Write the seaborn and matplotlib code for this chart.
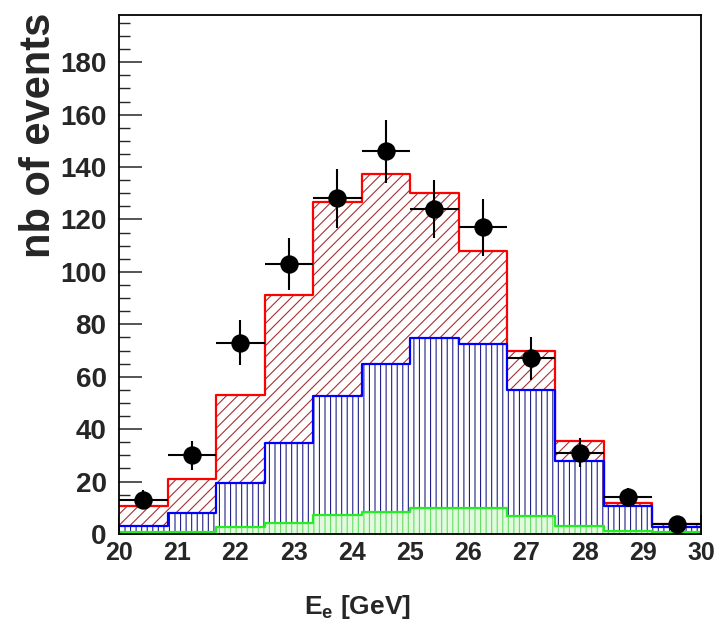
import numpy as np
import pandas as pd
import matplotlib
matplotlib.use("Agg")
import matplotlib.pyplot as plt
from matplotlib import font_manager
from matplotlib.ticker import MultipleLocator
import seaborn as sns

# binning of the energy spectrum (12 bins between 20 and 30 GeV)
bin_edges = list(np.linspace(20, 30, 13))
bin_centers = [0.5 * (a + b) for a, b in zip(bin_edges[:-1], bin_edges[1:])]

# simulated contributions
total_mc = [10.5, 21.0, 53.0, 91.0, 126.5, 137.5, 130.2, 107.8, 70.0, 35.5, 11.7, 3.8]
main_bkg = [3.2, 8.1, 19.3, 34.6, 52.6, 64.8, 74.6, 72.5, 54.9, 28.0, 10.7, 2.8]
small_bkg = [0.9, 0.9, 2.8, 4.3, 7.2, 8.5, 10.0, 9.9, 7.0, 3.2, 1.3, 0.7]

# measured events and their statistical errors
data_counts = [13, 30, 73, 103, 128, 146, 124, 117, 67, 31, 14, 4]
data_errors = [3.6, 5.5, 8.5, 10.1, 11.3, 12.1, 11.1, 10.8, 8.2, 5.6, 3.7, 2.0]

x_ticks = [20, 21, 22, 23, 24, 25, 26, 27, 28, 29, 30]
y_ticks = [0, 20, 40, 60, 80, 100, 120, 140, 160, 180]

sns.set_style("ticks")
plt.rcParams["font.family"] = ["Liberation Sans", "DejaVu Sans"]
plt.rcParams["font.weight"] = "bold"
plt.rcParams["mathtext.fontset"] = "custom"
plt.rcParams["mathtext.rm"] = "Liberation Sans:bold"
plt.rcParams["mathtext.bf"] = "Liberation Sans:bold"
plt.rcParams["mathtext.it"] = "Liberation Sans:bold"
plt.rcParams["mathtext.default"] = "bf"
plt.rcParams["hatch.linewidth"] = 0.8

installed = {f.name for f in font_manager.fontManager.ttflist}
if "Liberation Sans Narrow" in installed:
    ylab_font, ylab_size = "Liberation Sans Narrow", 36
else:
    ylab_font, ylab_size = "Liberation Sans", 30

df = pd.DataFrame({
    "E": bin_centers,
    "total": total_mc,
    "main": main_bkg,
    "small": small_bkg,
    "data": data_counts,
    "err": data_errors,
})

fig = plt.figure(figsize=(7.2, 6.2), dpi=100)
ax = fig.add_axes([0.1653, 0.1387, 0.8083, 0.8371])

layers = [
    ("total", "white", "#a83030", "///", "#ff0000"),
    ("main", "white", "#202088", "|||", "#0000ff"),
    ("small", "#e2fade", "#66dd66", "|||", "#22ee22"),
]
for col, face, hatch_col, hatch, line_col in layers:
    sns.histplot(data=df, x="E", weights=col, bins=bin_edges, element="step",
                 fill=True, facecolor=face, edgecolor=hatch_col, hatch=hatch,
                 linewidth=0, alpha=1, ax=ax)
    sns.histplot(data=df, x="E", weights=col, bins=bin_edges, element="step",
                 fill=False, color=line_col, linewidth=1.6, ax=ax)

half_width = (bin_edges[1] - bin_edges[0]) / 2
ax.errorbar(df["E"], df["data"], xerr=half_width, yerr=df["err"], fmt="none",
            ecolor="black", elinewidth=1.5, capsize=0, zorder=5)
sns.scatterplot(data=df, x="E", y="data", color="black", s=175,
                edgecolor="black", linewidth=0, zorder=6, ax=ax)

ax.set_xlim(20, 30)
ax.set_ylim(0, 198)
ax.set_xticks(x_ticks)
ax.set_yticks(y_ticks)
ax.xaxis.set_minor_locator(MultipleLocator(0.2))
ax.yaxis.set_minor_locator(MultipleLocator(5))
ax.tick_params(axis="x", which="major", direction="in", length=14, width=1.1,
               labelsize=18, pad=5, top=False)
ax.tick_params(axis="x", which="minor", direction="in", length=6.5, width=1.0,
               top=False)
ax.tick_params(axis="y", which="major", direction="in", length=16.5, width=1.1,
               labelsize=20, pad=9, right=False)
ax.tick_params(axis="y", which="minor", direction="in", length=8, width=1.0,
               right=False)
for spine in ax.spines.values():
    spine.set_visible(True)
    spine.set_linewidth(1.3)
    spine.set_color("black")

ax.set_xlabel("E$_e$ [GeV]", fontsize=19, fontweight="bold")
ax.xaxis.set_label_coords(0.409, -0.114)
ax.set_ylabel("nb of events", loc="top", fontsize=ylab_size, fontweight="bold",
              family=[ylab_font, "DejaVu Sans"])
ax.yaxis.set_label_coords(-0.103, 1.004)

fig.savefig("out.png", dpi=100)
plt.close(fig)
